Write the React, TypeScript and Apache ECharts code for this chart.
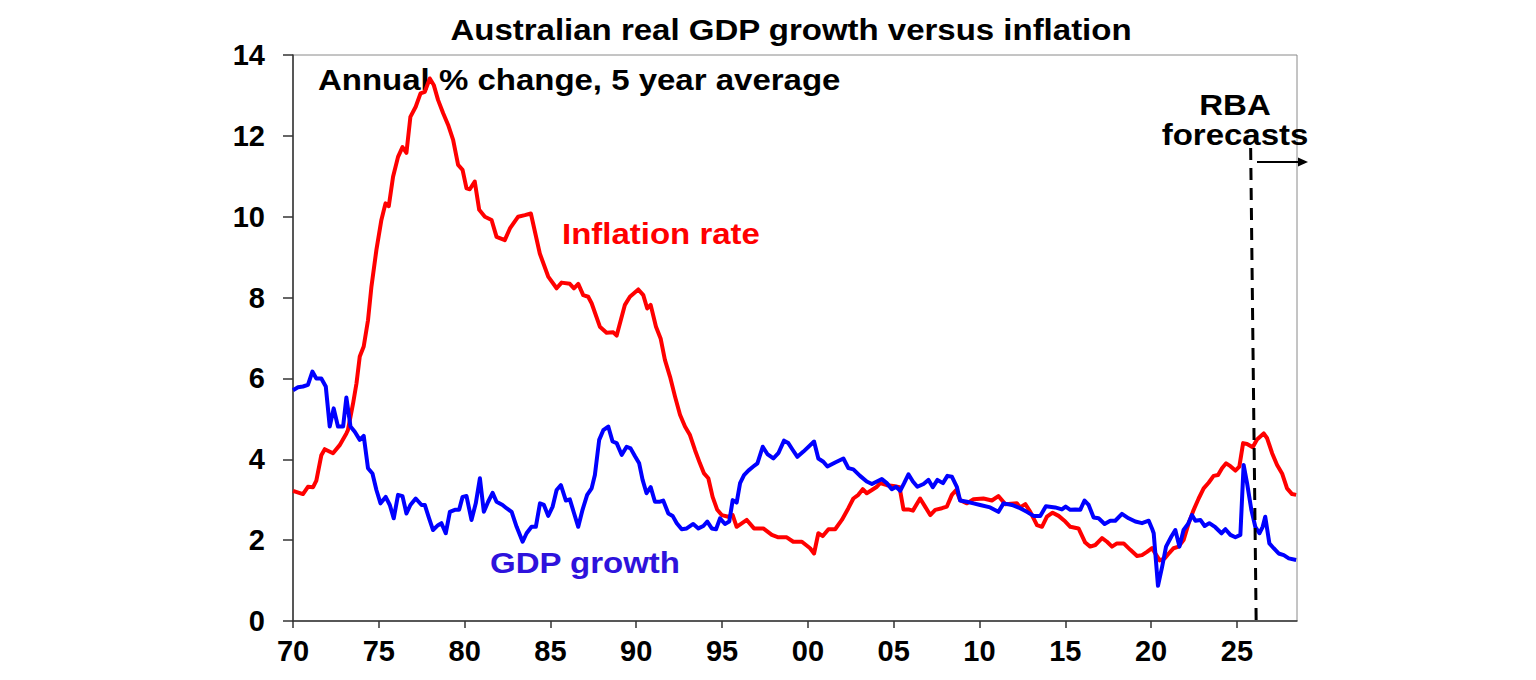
import React, { useEffect, useRef } from "react";
import * as echarts from "echarts";

// Annual % change, 5 year average — [year, value]
const inflationTo2000: [number, number][] = [
  [1970.0, 3.22], [1970.58, 3.14], [1970.87, 3.32], [1971.17, 3.31], [1971.36, 3.47],
  [1971.65, 4.1], [1971.85, 4.25], [1972.33, 4.15], [1972.72, 4.35], [1973.11, 4.64],
  [1973.2, 4.72], [1973.5, 5.38], [1973.7, 5.88], [1973.89, 6.54], [1974.12, 6.79],
  [1974.37, 7.44], [1974.57, 8.27], [1974.86, 9.18], [1975.15, 9.92], [1975.39, 10.33],
  [1975.58, 10.26], [1975.83, 10.99], [1976.12, 11.48], [1976.38, 11.72], [1976.61, 11.58],
  [1976.84, 12.47], [1977.15, 12.72], [1977.43, 13.05], [1977.68, 13.09], [1977.97, 13.42],
  [1978.2, 13.26], [1978.45, 12.89], [1978.75, 12.56], [1979.04, 12.27], [1979.33, 11.9],
  [1979.62, 11.28], [1979.88, 11.16], [1980.11, 10.7], [1980.3, 10.68], [1980.59, 10.87],
  [1980.85, 10.17], [1981.18, 10.0], [1981.57, 9.92], [1981.86, 9.5], [1982.34, 9.42],
  [1982.64, 9.71], [1983.12, 10.0], [1983.51, 10.04], [1983.86, 10.08], [1984.38, 9.09],
  [1984.87, 8.52], [1985.36, 8.23], [1985.65, 8.37], [1986.13, 8.34], [1986.37, 8.23],
  [1986.62, 8.34], [1986.91, 8.06], [1987.2, 8.02], [1987.4, 7.86], [1987.88, 7.28],
  [1988.27, 7.13], [1988.66, 7.14], [1988.86, 7.06], [1989.34, 7.82], [1989.63, 8.02],
  [1990.12, 8.2], [1990.41, 8.06], [1990.64, 7.73], [1990.84, 7.82], [1991.15, 7.28],
  [1991.42, 6.99], [1991.67, 6.46], [1991.97, 6.04], [1992.26, 5.55], [1992.55, 5.1],
  [1992.84, 4.81], [1993.13, 4.6], [1993.42, 4.23], [1993.71, 3.9], [1993.95, 3.65],
  [1994.2, 3.53], [1994.45, 3.07], [1994.72, 2.75], [1994.98, 2.62], [1995.36, 2.58],
  [1995.62, 2.62], [1995.85, 2.33], [1996.44, 2.5], [1996.86, 2.29], [1997.4, 2.29],
  [1997.9, 2.13], [1998.28, 2.07], [1998.77, 2.07], [1999.15, 1.96], [1999.65, 1.96],
];

const inflationFrom2000: [number, number][] = [
  [2000.13, 1.8], [2000.36, 1.67], [2000.61, 2.17], [2000.87, 2.1], [2001.2, 2.27],
  [2001.59, 2.27], [2001.98, 2.5], [2002.36, 2.79], [2002.65, 3.03], [2002.94, 3.12],
  [2003.2, 3.26], [2003.43, 3.16], [2003.73, 3.24], [2004.02, 3.32], [2004.21, 3.41],
  [2004.6, 3.36], [2004.99, 3.34], [2005.34, 3.31], [2005.57, 2.76], [2005.86, 2.76],
  [2006.12, 2.73], [2006.54, 3.03], [2006.83, 2.83], [2007.13, 2.62], [2007.42, 2.75],
  [2007.81, 2.79], [2008.1, 2.83], [2008.39, 3.12], [2008.64, 3.24], [2008.87, 2.99],
  [2009.27, 2.91], [2009.65, 3.01], [2010.23, 3.03], [2010.72, 2.98], [2011.1, 3.09],
  [2011.5, 2.89], [2012.18, 2.91], [2012.37, 2.81], [2012.67, 2.89], [2012.96, 2.7],
  [2013.35, 2.37], [2013.64, 2.33], [2013.93, 2.58], [2014.26, 2.68], [2014.61, 2.6],
  [2015.0, 2.46], [2015.29, 2.33], [2015.77, 2.29], [2016.16, 1.94], [2016.45, 1.84],
  [2016.75, 1.88], [2017.14, 2.05], [2017.43, 1.96], [2017.72, 1.84], [2018.01, 1.92],
  [2018.4, 1.92], [2018.79, 1.76], [2019.18, 1.61], [2019.47, 1.63], [2019.76, 1.71],
  [2020.05, 1.8], [2020.5, 1.5], [2020.8, 1.55], [2021.05, 1.68], [2021.31, 1.8],
  [2021.6, 1.84], [2021.89, 2.0], [2022.19, 2.42], [2022.48, 2.75], [2022.77, 3.03],
  [2023.06, 3.28], [2023.35, 3.42], [2023.64, 3.59], [2023.9, 3.61], [2024.13, 3.78],
  [2024.37, 3.9], [2024.62, 3.83], [2024.91, 3.72], [2025.14, 3.82], [2025.36, 4.4],
  [2025.59, 4.38], [2025.92, 4.3], [2026.17, 4.49], [2026.56, 4.64], [2026.76, 4.52],
  [2027.05, 4.15], [2027.34, 3.86], [2027.63, 3.65], [2027.92, 3.28], [2028.21, 3.14],
  [2028.45, 3.12],
];

const gdpTo2000: [number, number][] = [
  [1970.0, 5.71], [1970.29, 5.78], [1970.58, 5.8], [1970.87, 5.84], [1971.13, 6.17],
  [1971.36, 6.0], [1971.65, 6.0], [1971.91, 5.8], [1972.14, 4.81], [1972.37, 5.26],
  [1972.62, 4.81], [1972.92, 4.81], [1973.11, 5.53], [1973.35, 4.81], [1973.6, 4.68],
  [1973.89, 4.48], [1974.12, 4.58], [1974.37, 3.78], [1974.63, 3.65], [1974.86, 3.24],
  [1975.1, 2.91], [1975.4, 3.07], [1975.64, 2.87], [1975.87, 2.54], [1976.12, 3.12],
  [1976.38, 3.09], [1976.61, 2.66], [1976.84, 2.87], [1977.15, 3.03], [1977.49, 2.87],
  [1977.68, 2.87], [1977.93, 2.54], [1978.16, 2.25], [1978.45, 2.37], [1978.65, 2.42],
  [1978.9, 2.17], [1979.14, 2.7], [1979.43, 2.75], [1979.68, 2.75], [1979.88, 3.07],
  [1980.11, 3.09], [1980.4, 2.5], [1980.65, 2.91], [1980.89, 3.53], [1981.12, 2.7],
  [1981.37, 2.95], [1981.63, 3.17], [1981.86, 2.95], [1982.21, 2.87], [1982.44, 2.79],
  [1982.74, 2.7], [1983.03, 2.33], [1983.38, 1.96], [1983.61, 2.17], [1983.9, 2.33],
  [1984.15, 2.33], [1984.39, 2.91], [1984.62, 2.87], [1984.87, 2.6], [1985.13, 2.83],
  [1985.36, 3.24], [1985.61, 3.36], [1985.9, 2.98], [1986.13, 3.01], [1986.38, 2.66],
  [1986.62, 2.33], [1986.87, 2.75], [1987.14, 3.12], [1987.4, 3.28], [1987.59, 3.61],
  [1987.84, 4.48], [1988.08, 4.72], [1988.37, 4.81], [1988.62, 4.44], [1988.86, 4.4],
  [1989.15, 4.11], [1989.44, 4.31], [1989.67, 4.27], [1989.92, 4.08], [1990.17, 3.9],
  [1990.37, 3.49], [1990.6, 3.16], [1990.84, 3.31], [1991.09, 2.95], [1991.38, 2.95],
  [1991.57, 2.98], [1991.87, 2.66], [1992.12, 2.6], [1992.36, 2.42], [1992.65, 2.27],
  [1992.94, 2.29], [1993.32, 2.4], [1993.62, 2.29], [1993.91, 2.35], [1994.14, 2.46],
  [1994.4, 2.29], [1994.65, 2.27], [1994.88, 2.54], [1995.17, 2.4], [1995.42, 2.46],
  [1995.62, 2.99], [1995.85, 2.93], [1996.05, 3.41], [1996.28, 3.61], [1996.53, 3.72],
  [1996.82, 3.82], [1997.06, 3.9], [1997.37, 4.31], [1997.64, 4.13], [1997.99, 4.02],
  [1998.28, 4.15], [1998.61, 4.46], [1998.86, 4.4], [1999.12, 4.23], [1999.39, 4.06],
  [1999.74, 4.19],
];

const gdpFrom2000: [number, number][] = [
  [2000.36, 4.44], [2000.61, 4.02], [2000.9, 3.94], [2001.14, 3.82], [2001.59, 3.92],
  [2002.07, 4.02], [2002.36, 3.78], [2002.65, 3.75], [2003.04, 3.59], [2003.43, 3.45],
  [2003.73, 3.39], [2004.02, 3.45], [2004.31, 3.51], [2004.6, 3.41], [2004.89, 3.26],
  [2005.14, 3.32], [2005.38, 3.22], [2005.61, 3.41], [2005.86, 3.63], [2006.12, 3.45],
  [2006.38, 3.32], [2006.74, 3.39], [2007.03, 3.49], [2007.28, 3.31], [2007.55, 3.49],
  [2007.87, 3.41], [2008.13, 3.59], [2008.39, 3.57], [2008.68, 3.32], [2008.87, 2.98],
  [2009.27, 2.95], [2009.65, 2.91], [2010.04, 2.87], [2010.62, 2.81], [2011.1, 2.7],
  [2011.4, 2.91], [2011.89, 2.87], [2012.37, 2.79], [2012.76, 2.7], [2013.15, 2.6],
  [2013.54, 2.6], [2013.87, 2.84], [2014.41, 2.81], [2014.8, 2.76], [2015.02, 2.83],
  [2015.29, 2.75], [2015.58, 2.76], [2015.87, 2.75], [2016.12, 2.98], [2016.36, 2.87],
  [2016.65, 2.56], [2016.94, 2.54], [2017.29, 2.4], [2017.62, 2.48], [2017.91, 2.48],
  [2018.3, 2.65], [2018.69, 2.54], [2019.08, 2.46], [2019.47, 2.42], [2019.86, 2.48],
  [2020.05, 2.29], [2020.15, 2.17], [2020.4, 0.87], [2020.64, 1.34], [2020.87, 1.84],
  [2021.18, 2.09], [2021.41, 2.25], [2021.65, 1.84], [2021.89, 2.25], [2022.15, 2.4],
  [2022.38, 2.62], [2022.58, 2.48], [2022.87, 2.5], [2023.12, 2.35], [2023.39, 2.42],
  [2023.74, 2.32], [2024.1, 2.17], [2024.33, 2.27], [2024.62, 2.13], [2024.91, 2.07],
  [2025.2, 2.13], [2025.39, 3.86], [2025.59, 3.41], [2025.84, 2.75], [2026.07, 2.33],
  [2026.31, 2.17], [2026.5, 2.33], [2026.65, 2.58], [2026.89, 1.92], [2027.14, 1.8],
  [2027.43, 1.67], [2027.73, 1.63], [2028.02, 1.55], [2028.45, 1.51],
];

// Axis settings
const xMin = 1970;
const xMax = 2028.5;
const xStep = 5;
const yMin = 0;
const yMax = 14;
const yStep = 2;

// Start of the RBA forecast period (dashed divider), drawn up to this height
const forecastLineTop: [number, number] = [2025.8, 11.7];
const forecastLineBottom: [number, number] = [2026.12, 0];

const FONT = "'Liberation Sans', Arial, Helvetica, sans-serif";
const RED = "#ff0000";
const BLUE = "#0000ff";
const TEXT_SIZE = 30;
const TEXT_STRETCH = 1.1;

export default function App() {
  const ref = useRef<HTMLDivElement>(null);

  useEffect(() => {
    if (!ref.current) return;
    const chart = echarts.init(ref.current, undefined, { renderer: "svg" });

    const boldText = (text: string, x: number, y: number, fill: string, align = "left") => ({
      type: "text",
      x,
      y,
      scaleX: TEXT_STRETCH,
      silent: true,
      style: {
        text,
        fill,
        font: `bold ${TEXT_SIZE}px ${FONT}`,
        textAlign: align,
        textVerticalAlign: "middle",
      },
    });

    chart.setOption({
      animation: false,
      backgroundColor: "#ffffff",
      grid: {
        left: 293,
        right: 239,
        top: 55,
        bottom: 59,
        show: true,
        borderColor: "#8a8a8a",
        borderWidth: 1,
        backgroundColor: "transparent",
      },
      xAxis: {
        type: "value",
        min: xMin,
        max: xMax,
        interval: xStep,
        axisLine: { show: true, lineStyle: { color: "#333333", width: 1.5 } },
        axisTick: { show: true, inside: false, length: 7, lineStyle: { color: "#333333", width: 1.5 } },
        splitLine: { show: false },
        axisLabel: {
          margin: 15,
          color: "#000000",
          fontFamily: FONT,
          fontWeight: "bold",
          fontSize: 29,
          showMaxLabel: false,
          formatter: (v: number) =>
            Number.isInteger(v) && v % xStep === 0 ? String(v % 100).padStart(2, "0") : "",
        },
      },
      yAxis: {
        type: "value",
        min: yMin,
        max: yMax,
        interval: yStep,
        axisLine: { show: true, lineStyle: { color: "#333333", width: 1.5 } },
        axisTick: { show: true, inside: false, length: 10, lineStyle: { color: "#333333", width: 1.5 } },
        splitLine: { show: false },
        axisLabel: {
          margin: 28,
          color: "#000000",
          fontFamily: FONT,
          fontWeight: "bold",
          fontSize: 29,
        },
      },
      series: [
        {
          name: "Inflation rate",
          type: "line",
          data: [...inflationTo2000, ...inflationFrom2000],
          showSymbol: false,
          symbol: "none",
          lineStyle: { color: RED, width: 4, join: "round" },
          z: 3,
        },
        {
          name: "GDP growth",
          type: "line",
          data: [...gdpTo2000, ...gdpFrom2000],
          showSymbol: false,
          symbol: "none",
          lineStyle: { color: BLUE, width: 4, join: "round" },
          z: 4,
          markLine: {
            silent: true,
            symbol: ["none", "none"],
            label: { show: false },
            lineStyle: { color: "#000000", width: 3, type: [12, 8] },
            data: [[{ coord: forecastLineTop }, { coord: forecastLineBottom }]],
            z: 5,
          },
        },
      ],
      graphic: [
        boldText("Australian real GDP growth versus inflation", 791, 30, "#000000", "center"),
        boldText("Annual % change, 5 year average", 318, 80, "#000000"),
        boldText("Inflation rate", 562, 234, RED),
        boldText("GDP growth", 490, 563, "#2e12dc"),
        boldText("RBA", 1235, 105, "#000000", "center"),
        boldText("forecasts", 1235, 135, "#000000", "center"),
        {
          type: "line",
          silent: true,
          shape: { x1: 1257, y1: 162, x2: 1300, y2: 162 },
          style: { stroke: "#000000", lineWidth: 2 },
        },
        {
          type: "polygon",
          silent: true,
          shape: { points: [[1298, 157.5], [1308, 162], [1298, 166.5]] },
          style: { fill: "#000000" },
        },
      ],
    });

    return () => chart.dispose();
  }, []);

  return (
    <div
      ref={ref}
      style={{ position: "fixed", left: 0, top: 0, width: 1536, height: 680, background: "#ffffff" }}
    />
  );
}
